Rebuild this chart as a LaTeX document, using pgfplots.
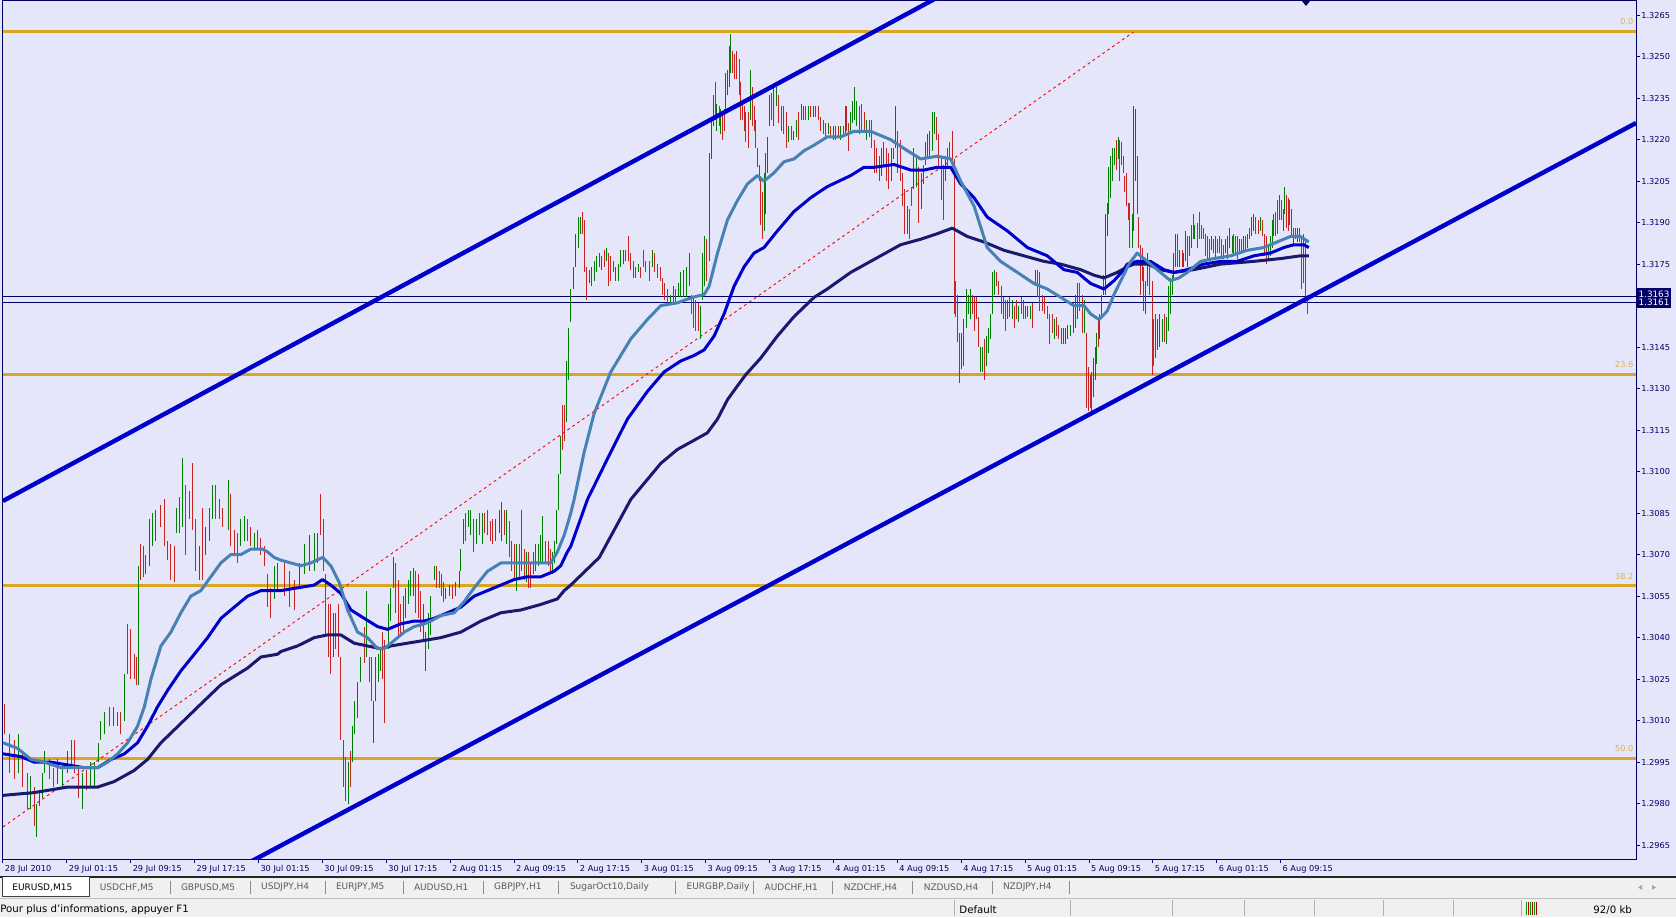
\documentclass[border=0pt]{standalone}
\usepackage{fontspec}
\setmainfont{DejaVu Sans}
\usepackage{pgfplots}
\usepackage{pgfplotstable}
\pgfplotsset{compat=1.18}
\definecolor{lav}{RGB}{230,230,250}
\definecolor{fib}{RGB}{218,165,32}
\definecolor{fibtxt}{RGB}{222,178,80}
\definecolor{chan}{RGB}{0,0,205}
\definecolor{maf}{RGB}{70,130,180}
\definecolor{mam}{RGB}{0,0,205}
\definecolor{mas}{RGB}{25,25,112}
\definecolor{axc}{RGB}{0,0,102}
\definecolor{hl}{RGB}{0,0,100}
\definecolor{tabgray}{RGB}{240,240,240}
\definecolor{tabtxt}{RGB}{90,90,90}
\newcommand{\axfont}{\fontsize{4.1}{4.5}\selectfont}
\newcommand{\tabfont}{\fontsize{4.5}{5}\selectfont}
\newcommand{\stfont}{\fontsize{5.1}{5.5}\selectfont}
\newcommand{\tabtext}[2]{\node[anchor=west, font=\tabfont, inner sep=0pt, text=tabtxt] at (#1pt,14.8pt) {#2};}

\pgfplotstableread{
x l h c
0.6 1.3005 1.3016 0
3.1 1.2991 1.3005 0
5.6 1.2989 1.3003 0
7.6 1.2991 1.3005 1
9.8 1.2986 1.2998 0
12.3 1.2978 1.2991 0
14.0 1.2978 1.2990 1
15.6 1.2972 1.2986 0
16.6 1.2968 1.2980 1
18.1 1.2979 1.2984 1
19.8 1.2982 1.2991 1
21.0 1.2991 1.2999 1
23.2 1.2989 1.2996 0
25.3 1.2986 1.2993 0
27.3 1.2987 1.2996 1
29.8 1.2986 1.2993 1
32.3 1.2991 1.2999 1
34.3 1.2993 1.3003 0
36.0 1.2991 1.3003 0
37.7 1.2982 1.2993 0
39.8 1.2978 1.2991 1
42.0 1.2985 1.2992 0
44.0 1.2986 1.2995 1
46.0 1.2986 1.2995 1
47.7 1.2995 1.3002 1
49.0 1.3003 1.3010 1
51.0 1.3005 1.3013 1
53.2 1.3008 1.3015 0
55.4 1.3008 1.3015 1
57.4 1.3008 1.3013 0
59.0 1.3005 1.3013 0
60.7 1.3010 1.3027 1
62.4 1.3027 1.3045 0
64.1 1.3025 1.3043 0
65.7 1.3025 1.3034 0
66.9 1.3023 1.3033 0
67.7 1.3023 1.3066 1
69.1 1.3061 1.3074 0
70.4 1.3062 1.3073 0
71.6 1.3063 1.3070 1
73.2 1.3066 1.3083 1
74.9 1.3073 1.3085 1
76.6 1.3075 1.3086 1
78.7 1.3080 1.3088 0
80.7 1.3073 1.3090 0
82.4 1.3068 1.3075 0
84.1 1.3061 1.3074 0
85.7 1.3060 1.3073 0
87.1 1.3078 1.3087 1
88.3 1.3078 1.3091 1
89.9 1.3080 1.3105 1
91.6 1.3070 1.3095 0
93.3 1.3083 1.3093 0
95.0 1.3079 1.3103 0
96.6 1.3064 1.3083 0
98.3 1.3061 1.3073 1
100.0 1.3061 1.3087 0
101.6 1.3070 1.3080 1
103.3 1.3075 1.3087 1
105.0 1.3083 1.3095 1
106.6 1.3083 1.3095 0
108.3 1.3083 1.3090 0
110.0 1.3080 1.3087 0
112.8 1.3079 1.3097 1
114.1 1.3073 1.3092 0
115.8 1.3070 1.3079 0
117.5 1.3067 1.3078 0
119.1 1.3073 1.3083 1
120.8 1.3075 1.3084 1
122.5 1.3075 1.3083 0
124.1 1.3073 1.3080 0
125.8 1.3072 1.3078 1
127.5 1.3072 1.3079 0
129.1 1.3070 1.3076 0
130.8 1.3066 1.3073 0
132.5 1.3051 1.3063 0
134.2 1.3047 1.3058 0
135.8 1.3054 1.3066 1
137.5 1.3057 1.3067 1
140.9 1.3055 1.3067 0
143.4 1.3051 1.3064 0
145.9 1.3050 1.3061 0
148.4 1.3058 1.3067 1
150.9 1.3063 1.3074 1
153.4 1.3064 1.3077 1
155.9 1.3064 1.3078 1
157.6 1.3067 1.3078 1
159.2 1.3077 1.3092 0
160.6 1.3064 1.3083 0
161.7 1.3041 1.3063 0
162.9 1.3033 1.3052 0
164.2 1.3027 1.3052 0
165.6 1.3033 1.3049 1
166.7 1.3036 1.3049 0
167.9 1.3033 1.3052 0
169.2 1.3003 1.3033 0
170.6 1.2986 1.3003 0
171.7 1.2981 1.2997 0
172.9 1.2980 1.2995 1
173.9 1.2986 1.2999 0
175.1 1.2995 1.3008 1
176.3 1.3005 1.3017 1
177.6 1.3011 1.3024 1
179.3 1.3024 1.3033 1
180.9 1.3031 1.3044 0
182.3 1.3033 1.3057 1
183.4 1.3024 1.3033 0
184.6 1.3017 1.3033 0
185.6 1.3002 1.3017 1
186.8 1.3017 1.3033 1
187.9 1.3024 1.3034 1
189.3 1.3028 1.3036 1
190.1 1.3025 1.3042 0
191.3 1.3009 1.3039 0
192.9 1.3036 1.3052 1
194.3 1.3046 1.3058 1
195.5 1.3058 1.3069 1
196.8 1.3049 1.3067 0
198.0 1.3041 1.3061 0
199.3 1.3041 1.3052 0
200.6 1.3042 1.3055 1
201.8 1.3047 1.3058 1
202.9 1.3052 1.3061 1
204.3 1.3055 1.3064 1
205.6 1.3055 1.3065 1
206.8 1.3049 1.3064 0
208.0 1.3047 1.3063 0
209.3 1.3042 1.3057 0
210.6 1.3039 1.3052 1
211.8 1.3028 1.3042 1
213.0 1.3036 1.3049 1
214.3 1.3041 1.3055 1
216.0 1.3061 1.3066 1
217.3 1.3058 1.3066 0
218.5 1.3058 1.3064 0
219.7 1.3055 1.3063 0
220.7 1.3053 1.3060 0
221.8 1.3054 1.3058 1
223.5 1.3055 1.3059 1
225.2 1.3054 1.3059 0
226.8 1.3055 1.3060 1
228.5 1.3058 1.3064 1
229.3 1.3064 1.3072 1
230.7 1.3074 1.3083 1
231.8 1.3075 1.3085 0
233.0 1.3080 1.3086 1
234.3 1.3077 1.3086 1
235.7 1.3071 1.3083 0
237.0 1.3074 1.3083 1
238.5 1.3077 1.3085 0
240.2 1.3074 1.3085 1
241.4 1.3078 1.3085 0
242.7 1.3077 1.3086 0
244.0 1.3075 1.3082 0
245.2 1.3074 1.3083 0
246.9 1.3075 1.3083 1
248.5 1.3078 1.3086 1
249.7 1.3075 1.3089 1
251.0 1.3077 1.3086 0
252.4 1.3074 1.3086 1
253.5 1.3069 1.3082 0
254.7 1.3064 1.3075 0
256.0 1.3061 1.3074 0
257.4 1.3057 1.3074 1
258.5 1.3061 1.3074 0
259.7 1.3064 1.3086 0
261.0 1.3061 1.3072 0
262.2 1.3060 1.3071 1
263.4 1.3058 1.3071 0
264.4 1.3058 1.3067 0
265.7 1.3063 1.3071 1
266.9 1.3064 1.3074 1
268.1 1.3066 1.3074 1
269.4 1.3067 1.3077 1
270.2 1.3067 1.3084 1
271.9 1.3067 1.3075 0
273.1 1.3066 1.3075 0
274.1 1.3064 1.3072 0
275.2 1.3063 1.3071 1
276.4 1.3067 1.3075 1
277.4 1.3074 1.3086 1
278.4 1.3086 1.3099 1
279.4 1.3099 1.3113 1
280.4 1.3108 1.3124 0
281.4 1.3111 1.3124 0
282.1 1.3118 1.3140 1
283.1 1.3133 1.3152 1
284.1 1.3154 1.3166 1
285.7 1.3166 1.3174 1
286.9 1.3174 1.3186 1
288.1 1.3181 1.3192 1
289.1 1.3186 1.3192 1
290.2 1.3186 1.3194 0
291.4 1.3172 1.3191 0
292.4 1.3162 1.3174 0
293.6 1.3168 1.3173 1
294.8 1.3167 1.3174 1
296.1 1.3169 1.3176 1
297.4 1.3172 1.3178 1
298.6 1.3174 1.3179 1
299.8 1.3173 1.3178 1
301.1 1.3174 1.3180 0
302.3 1.3176 1.3181 1
303.3 1.3167 1.3179 0
304.4 1.3169 1.3178 0
305.8 1.3172 1.3176 0
306.9 1.3169 1.3174 1
308.1 1.3169 1.3175 1
309.4 1.3174 1.3180 1
310.8 1.3175 1.3180 1
311.9 1.3176 1.3180 0
313.1 1.3176 1.3185 0
314.5 1.3173 1.3179 0
315.8 1.3170 1.3176 0
317.0 1.3170 1.3174 0
318.1 1.3172 1.3175 1
319.5 1.3170 1.3174 0
320.8 1.3174 1.3180 0
322.0 1.3172 1.3176 0
323.6 1.3169 1.3176 0
325.3 1.3174 1.3180 1
326.5 1.3172 1.3179 0
327.8 1.3170 1.3175 0
329.1 1.3169 1.3174 0
330.3 1.3164 1.3170 0
331.5 1.3162 1.3168 0
332.8 1.3160 1.3166 0
334.5 1.3161 1.3164 1
335.8 1.3161 1.3167 1
337.0 1.3161 1.3166 0
338.2 1.3163 1.3168 1
339.5 1.3163 1.3172 1
340.8 1.3163 1.3173 1
342.5 1.3163 1.3174 1
343.7 1.3167 1.3179 1
344.8 1.3157 1.3164 0
345.8 1.3152 1.3163 0
347.0 1.3151 1.3162 0
348.2 1.3151 1.3161 0
349.2 1.3148 1.3160 1
350.3 1.3162 1.3179 1
351.2 1.3167 1.3185 1
352.5 1.3169 1.3184 0
353.8 1.3176 1.3215 1
354.8 1.3213 1.3227 1
355.8 1.3225 1.3236 1
356.7 1.3227 1.3241 0
357.5 1.3223 1.3233 1
358.7 1.3225 1.3232 0
359.5 1.3222 1.3231 1
360.4 1.3220 1.3230 0
361.2 1.3223 1.3231 0
362.0 1.3231 1.3244 1
362.9 1.3236 1.3245 1
363.7 1.3239 1.3254 1
364.5 1.3244 1.3258 1
365.4 1.3244 1.3252 0
366.2 1.3242 1.3251 0
367.5 1.3242 1.3252 0
368.7 1.3236 1.3249 0
369.5 1.3227 1.3241 0
370.4 1.3227 1.3233 0
371.2 1.3223 1.3232 0
372.0 1.3219 1.3230 0
373.2 1.3217 1.3230 0
374.2 1.3227 1.3245 1
375.4 1.3225 1.3239 0
376.2 1.3223 1.3232 0
377.1 1.3217 1.3227 0
377.9 1.3210 1.3217 0
378.7 1.3205 1.3211 0
379.5 1.3189 1.3207 0
380.4 1.3184 1.3201 0
381.2 1.3187 1.3208 1
382.1 1.3193 1.3215 1
382.9 1.3208 1.3221 1
384.1 1.3225 1.3236 1
385.1 1.3227 1.3237 0
386.2 1.3225 1.3239 1
387.6 1.3232 1.3239 1
388.7 1.3226 1.3236 0
389.9 1.3223 1.3232 0
391.2 1.3222 1.3232 0
392.6 1.3217 1.3230 0
393.7 1.3219 1.3225 1
394.9 1.3220 1.3225 0
396.2 1.3220 1.3223 1
397.6 1.3221 1.3227 1
398.7 1.3220 1.3230 0
399.9 1.3227 1.3233 1
400.9 1.3227 1.3232 1
402.1 1.3227 1.3232 0
403.3 1.3227 1.3232 1
404.6 1.3228 1.3232 0
405.9 1.3228 1.3232 1
407.1 1.3228 1.3232 0
408.3 1.3227 1.3232 0
409.6 1.3223 1.3228 0
410.9 1.3222 1.3227 0
412.1 1.3221 1.3226 0
413.3 1.3222 1.3226 1
414.6 1.3221 1.3225 0
415.9 1.3220 1.3225 1
417.1 1.3220 1.3225 0
418.3 1.3221 1.3225 0
419.6 1.3220 1.3225 1
420.9 1.3221 1.3225 0
421.8 1.3222 1.3232 1
422.6 1.3223 1.3232 0
423.5 1.3216 1.3226 0
424.3 1.3222 1.3230 1
425.5 1.3226 1.3234 1
426.5 1.3227 1.3239 1
427.6 1.3225 1.3234 1
428.8 1.3222 1.3232 0
430.0 1.3223 1.3233 0
431.3 1.3223 1.3230 0
432.6 1.3220 1.3227 1
433.8 1.3221 1.3227 1
435.0 1.3217 1.3227 0
436.3 1.3208 1.3220 0
437.6 1.3208 1.3217 0
438.8 1.3205 1.3214 0
440.0 1.3207 1.3217 1
441.3 1.3210 1.3219 1
442.6 1.3205 1.3217 0
443.8 1.3202 1.3215 0
445.0 1.3205 1.3217 1
446.0 1.3213 1.3217 1
447.1 1.3217 1.3232 1
448.3 1.3208 1.3223 0
449.6 1.3205 1.3220 0
450.8 1.3196 1.3208 0
451.8 1.3186 1.3202 0
453.0 1.3186 1.3196 1
454.2 1.3184 1.3195 0
455.2 1.3196 1.3203 0
456.3 1.3202 1.3217 1
457.7 1.3203 1.3214 1
458.8 1.3190 1.3210 0
460.0 1.3195 1.3208 1
461.0 1.3204 1.3211 1
462.2 1.3211 1.3219 1
463.3 1.3213 1.3222 1
464.3 1.3214 1.3223 1
465.5 1.3216 1.3230 1
466.7 1.3222 1.3230 1
467.7 1.3220 1.3228 0
468.8 1.3210 1.3222 0
470.0 1.3198 1.3214 0
471.0 1.3191 1.3211 0
472.2 1.3205 1.3214 1
473.3 1.3210 1.3217 0
474.3 1.3213 1.3219 0
475.4 1.3210 1.3223 0
476.4 1.3157 1.3213 0
477.2 1.3156 1.3169 0
478.0 1.3147 1.3164 0
479.0 1.3132 1.3150 0
480.0 1.3137 1.3150 1
481.0 1.3138 1.3155 1
482.4 1.3152 1.3166 1
483.4 1.3157 1.3164 1
484.4 1.3155 1.3166 1
485.4 1.3157 1.3164 0
486.4 1.3151 1.3163 0
487.4 1.3155 1.3163 0
488.4 1.3145 1.3156 0
489.4 1.3136 1.3145 1
490.4 1.3136 1.3145 1
491.4 1.3133 1.3148 0
492.4 1.3138 1.3149 1
493.4 1.3143 1.3152 1
494.4 1.3148 1.3157 1
495.5 1.3157 1.3172 1
496.7 1.3164 1.3173 1
497.7 1.3167 1.3172 0
498.9 1.3164 1.3169 0
500.1 1.3157 1.3167 0
501.1 1.3155 1.3163 0
502.2 1.3151 1.3162 0
503.4 1.3155 1.3162 1
504.4 1.3156 1.3163 0
505.6 1.3155 1.3162 1
506.7 1.3152 1.3160 0
507.7 1.3155 1.3162 0
508.9 1.3154 1.3160 1
510.1 1.3157 1.3163 0
511.1 1.3155 1.3162 0
512.2 1.3155 1.3160 1
513.4 1.3156 1.3160 1
514.7 1.3155 1.3160 1
515.9 1.3152 1.3161 0
517.3 1.3167 1.3173 1
518.4 1.3163 1.3173 0
519.4 1.3158 1.3172 0
520.6 1.3158 1.3164 0
521.8 1.3157 1.3163 0
523.1 1.3155 1.3160 0
524.4 1.3146 1.3157 0
525.6 1.3150 1.3157 0
526.8 1.3148 1.3155 1
527.8 1.3149 1.3156 0
528.9 1.3148 1.3153 0
530.1 1.3146 1.3152 0
531.1 1.3146 1.3152 1
532.3 1.3146 1.3152 1
533.4 1.3148 1.3153 1
534.8 1.3149 1.3153 1
536.1 1.3150 1.3161 1
537.3 1.3152 1.3164 1
538.4 1.3155 1.3168 1
539.4 1.3158 1.3168 0
540.6 1.3150 1.3164 0
541.9 1.3150 1.3162 1
542.8 1.3123 1.3150 0
543.6 1.3122 1.3138 0
544.5 1.3123 1.3135 0
545.3 1.3122 1.3136 0
546.1 1.3127 1.3141 1
547.0 1.3133 1.3145 1
547.8 1.3139 1.3150 1
548.6 1.3145 1.3155 0
549.5 1.3148 1.3157 1
550.3 1.3155 1.3164 1
551.5 1.3164 1.3171 1
552.3 1.3164 1.3193 1
553.1 1.3185 1.3197 1
554.0 1.3193 1.3210 1
554.8 1.3199 1.3214 1
555.6 1.3205 1.3217 1
556.8 1.3211 1.3217 1
557.8 1.3209 1.3220 0
558.6 1.3213 1.3221 1
559.5 1.3205 1.3220 0
560.3 1.3211 1.3219 0
561.2 1.3208 1.3214 0
562.0 1.3201 1.3207 0
562.8 1.3196 1.3208 0
563.7 1.3191 1.3197 0
564.5 1.3181 1.3197 0
565.6 1.3181 1.3193 1
566.5 1.3187 1.3232 1
567.3 1.3205 1.3231 1
568.1 1.3193 1.3214 0
569.0 1.3181 1.3192 0
569.8 1.3164 1.3182 0
570.6 1.3169 1.3181 0
571.5 1.3158 1.3174 0
572.3 1.3157 1.3169 1
573.2 1.3167 1.3179 1
574.5 1.3164 1.3174 0
575.7 1.3135 1.3169 0
576.5 1.3138 1.3155 0
577.3 1.3141 1.3157 1
578.5 1.3144 1.3155 1
579.5 1.3145 1.3157 1
580.7 1.3147 1.3155 1
581.8 1.3147 1.3157 0
582.8 1.3146 1.3156 1
584.0 1.3151 1.3167 1
584.8 1.3157 1.3170 1
585.7 1.3164 1.3171 1
586.5 1.3169 1.3179 1
587.3 1.3174 1.3186 1
588.5 1.3174 1.3186 0
589.5 1.3174 1.3180 1
590.7 1.3174 1.3180 0
591.5 1.3174 1.3179 1
592.5 1.3176 1.3187 1
593.5 1.3174 1.3185 0
594.5 1.3178 1.3185 1
595.4 1.3181 1.3189 1
596.2 1.3184 1.3193 0
597.0 1.3184 1.3189 1
598.2 1.3181 1.3190 0
599.4 1.3184 1.3194 0
600.4 1.3184 1.3189 0
601.5 1.3184 1.3188 0
602.5 1.3178 1.3186 0
603.5 1.3177 1.3185 0
604.5 1.3177 1.3184 0
605.5 1.3180 1.3185 1
606.5 1.3179 1.3184 0
607.5 1.3177 1.3185 1
608.5 1.3179 1.3184 0
609.5 1.3179 1.3185 0
610.5 1.3177 1.3184 0
611.5 1.3177 1.3182 0
612.5 1.3179 1.3184 1
613.5 1.3177 1.3185 1
614.5 1.3181 1.3188 1
615.7 1.3179 1.3185 1
616.6 1.3178 1.3186 0
617.6 1.3179 1.3185 1
618.6 1.3177 1.3185 0
619.6 1.3179 1.3184 1
620.6 1.3179 1.3184 0
621.6 1.3179 1.3185 1
622.6 1.3180 1.3185 0
623.6 1.3181 1.3186 1
624.6 1.3184 1.3188 0
625.6 1.3185 1.3192 1
626.6 1.3187 1.3193 1
627.6 1.3186 1.3192 0
628.7 1.3186 1.3191 0
629.9 1.3187 1.3192 1
630.9 1.3185 1.3191 0
631.9 1.3178 1.3186 0
632.9 1.3175 1.3185 0
633.7 1.3176 1.3182 1
634.7 1.3178 1.3185 1
635.7 1.3181 1.3191 1
636.6 1.3185 1.3193 1
637.4 1.3185 1.3194 0
638.2 1.3186 1.3198 0
639.3 1.3191 1.3200 1
640.3 1.3191 1.3198 0
641.3 1.3187 1.3195 1
642.1 1.3193 1.3203 1
642.9 1.3188 1.3200 0
643.8 1.3187 1.3199 0
644.6 1.3189 1.3198 0
645.6 1.3185 1.3195 0
646.6 1.3182 1.3188 1
647.6 1.3184 1.3188 0
648.6 1.3183 1.3188 1
649.6 1.3183 1.3188 0
650.6 1.3166 1.3185 0
651.6 1.3168 1.3186 0
652.4 1.3163 1.3184 0
653.6 1.3157 1.3164 0
}\bars

\begin{document}
\begin{tikzpicture}
\path[use as bounding box] (0,0) rectangle (838pt,458.5pt);
\fill[lav] (0,20pt) rectangle (838pt,458.5pt);
\fill[tabgray] (0,0) rectangle (838pt,20pt);
\draw[black!85, line width=0.6pt] (0,20pt) -- (838pt,20pt);
\draw[black!25, line width=0.4pt] (0,9.3pt) -- (838pt,9.3pt);
% active tab
\filldraw[fill=white, draw=black!75, line width=0.45pt] (1pt,20pt) -- (1pt,10.2pt) -- (44.8pt,10.2pt) -- (44.8pt,20pt);
\node[anchor=west, font=\tabfont, inner sep=0pt, text=black] at (6pt,14.8pt) {EURUSD,M15};
\tabtext{49.7}{USDCHF,M5}
\tabtext{90.3}{GBPUSD,M5}
\tabtext{130.4}{USDJPY,H4}
\tabtext{167.8}{EURJPY,M5}
\tabtext{206.8}{AUDUSD,H1}
\tabtext{246.9}{GBPJPY,H1}
\tabtext{284.8}{SugarOct10,Daily}
\tabtext{343.1}{EURGBP,Daily}
\tabtext{382.1}{AUDCHF,H1}
\tabtext{421.7}{NZDCHF,H4}
\tabtext{461.7}{NZDUSD,H4}
\tabtext{501.3}{NZDJPY,H4}
\foreach \xx in {85,125,162.5,201.5,241.5,279,337.7,376.8,416.3,456.4,496,534.5}
  \draw[black!45, line width=0.4pt] (\xx pt,11.5pt) -- (\xx pt,18pt);
\fill[black!35] (819pt,14.8pt) -- (821pt,16pt) -- (821pt,13.6pt) -- cycle;
\fill[black!35] (828pt,14.8pt) -- (826pt,16pt) -- (826pt,13.6pt) -- cycle;
% status bar
\node[anchor=west, font=\stfont, inner sep=0pt, text=black] at (0pt,3.6pt) {Pour plus d'informations, appuyer F1};
\node[anchor=west, font=\stfont, inner sep=0pt, text=black] at (479.5pt,3.6pt) {Default};
\node[anchor=west, font=\stfont, inner sep=0pt, text=black] at (796.5pt,3.6pt) {92/0 kb};
\foreach \xx in {477.4,535,586.3,622,657,691.5,726.5,760.5}
  \draw[black!30, line width=0.4pt] (\xx pt,0.5pt) -- (\xx pt,8.5pt);
\draw[green!60!black, line width=0.5pt] (763pt,1pt) -- (763pt,7.5pt);
\draw[red!70!black, line width=0.5pt] (764pt,1pt) -- (764pt,7.5pt);
\draw[green!60!black, line width=0.5pt] (765pt,1pt) -- (765pt,7.5pt);
\draw[red!70!black, line width=0.5pt] (766pt,1pt) -- (766pt,7.5pt);
\draw[green!60!black, line width=0.5pt] (767pt,1pt) -- (767pt,7.5pt);
\draw[red!70!black, line width=0.5pt] (768pt,1pt) -- (768pt,7.5pt);
\begin{axis}[
  at={(1.5pt,29pt)}, anchor=south west,
  scale only axis, width=816.5pt, height=429pt,
  xmin=0, xmax=818, ymin=1.29600, ymax=1.32701,
  clip mode=individual,
  axis line style={draw=axc, line width=0.5pt},
  tick style={draw=axc, line width=0.5pt},
  tick align=outside, major tick length=2pt,
  xtick pos=left, ytick pos=right, yticklabel pos=right,
  scaled y ticks=false, scaled x ticks=false,
  xtick={0,32,...,640},
  xticklabels={28 Jul 2010, 29 Jul 01:15, 29 Jul 09:15, 29 Jul 17:15, 30 Jul 01:15, 30 Jul 09:15, 30 Jul 17:15, 2 Aug 01:15, 2 Aug 09:15, 2 Aug 17:15, 3 Aug 01:15, 3 Aug 09:15, 3 Aug 17:15, 4 Aug 01:15, 4 Aug 09:15, 4 Aug 17:15, 5 Aug 01:15, 5 Aug 09:15, 5 Aug 17:15, 6 Aug 01:15, 6 Aug 09:15},
  ytick={1.2965,1.2980,1.2995,1.3010,1.3025,1.3040,1.3055,1.3070,1.3085,1.3100,1.3115,1.3130,1.3145,1.3160,1.3175,1.3190,1.3205,1.3220,1.3235,1.3250,1.3265},
  yticklabels={1.2965,1.2980,1.2995,1.3010,1.3025,1.3040,1.3055,1.3070,1.3085,1.3100,1.3115,1.3130,1.3145,1.3160,1.3175,1.3190,1.3205,1.3220,1.3235,1.3250,1.3265},
  xticklabel style={font=\axfont, text=axc, anchor=north west, inner sep=0pt, xshift=0.8pt, yshift=-0.9pt},
  yticklabel style={font=\axfont, text=axc, anchor=west, inner sep=0pt, xshift=0.5pt},
  colormap={updown}{rgb255=(200,35,35) rgb255=(0,128,0)},
  point meta min=0, point meta max=1,
]
% fibonacci levels
\addplot[fib, line width=1.5pt] coordinates {(0,1.32592) (818,1.32592)};
\addplot[fib, line width=1.5pt] coordinates {(0,1.31351) (818,1.31351)};
\addplot[fib, line width=1.5pt] coordinates {(0,1.30587) (818,1.30587)};
\addplot[fib, line width=1.5pt] coordinates {(0,1.29963) (818,1.29963)};
\addplot[red, line width=0.45pt, dash pattern=on 1.4pt off 1.6pt] coordinates {(0,1.29716) (566.3,1.32589)};
% horizontal lines
\addplot[hl, line width=0.5pt] coordinates {(0,1.31634) (818,1.31634)};
\addplot[hl, line width=0.5pt] coordinates {(0,1.31611) (818,1.31611)};
% price bars
\addplot[point meta=\thisrow{c}, quiver={u=0, v=\thisrow{h}-\thisrow{l}, every arrow/.append style={draw=mapped color, line width=0.5pt}}] table[x=x, y=l] {\bars};
% moving averages
\addplot[mas, line width=1.5pt, line join=round] coordinates {(0,1.2983) (15.6,1.2984) (32.4,1.2986) (47.4,1.2986) (55.7,1.2988) (65.7,1.2992) (72.4,1.2996) (79.1,1.3002) (89.1,1.3009) (99.1,1.3016) (109.2,1.3023) (115.8,1.3026) (122.5,1.3029) (129.2,1.3033) (137.5,1.3034) (139.2,1.3035) (147.5,1.3037) (155.9,1.3040) (162.6,1.3041) (169.2,1.3041) (175.9,1.3038) (182.6,1.3037) (189.3,1.3036) (194.3,1.3037) (202.6,1.3038) (211.0,1.3039) (219.3,1.3040) (229.3,1.3042) (239.4,1.3046) (249.4,1.3049) (259.4,1.3050) (269.4,1.3052) (277.7,1.3054) (281.1,1.3057) (284.4,1.3059) (298.7,1.3069) (314.5,1.3090) (329.5,1.3103) (337.8,1.3108) (347.8,1.3112) (352.8,1.3114) (357.9,1.3119) (362.9,1.3126) (367.9,1.3131) (372.0,1.3135) (379.5,1.3141) (387.9,1.3149) (396.2,1.3156) (406.3,1.3163) (412.9,1.3166) (424.6,1.3172) (429.6,1.3174) (439.6,1.3178) (449.6,1.3182) (459.7,1.3184) (468.0,1.3186) (475.5,1.3188) (483.0,1.3185) (491.4,1.3183) (501.4,1.3180) (511.4,1.3178) (521.4,1.3176) (529.8,1.3175) (539.8,1.3173) (546.5,1.3171) (551.5,1.3170) (558.1,1.3172) (563.1,1.3174) (566.5,1.3175) (573.2,1.3175) (579.8,1.3173) (586.5,1.3172) (596.5,1.3173) (609.9,1.3175) (626.6,1.3176) (639.9,1.3177) (649.9,1.3178) (654.1,1.3178)};
\addplot[mam, line width=1.5pt, line join=round] coordinates {(0,1.2998) (9.0,1.2997) (15.6,1.2995) (24.0,1.2995) (32.4,1.2994) (40.7,1.2993) (47.4,1.2993) (54.1,1.2996) (60.8,1.2998) (67.4,1.3002) (72.4,1.3008) (77.4,1.3015) (82.5,1.3021) (89.1,1.3028) (95.8,1.3034) (102.5,1.3040) (109.2,1.3047) (115.8,1.3051) (122.5,1.3055) (129.2,1.3057) (137.5,1.3057) (139.2,1.3057) (147.5,1.3058) (155.9,1.3059) (160.1,1.3061) (164.2,1.3059) (169.2,1.3056) (174.3,1.3050) (180.9,1.3047) (187.6,1.3044) (192.6,1.3043) (199.3,1.3045) (206.0,1.3046) (211.0,1.3046) (216.0,1.3047) (222.7,1.3049) (229.3,1.3051) (236.0,1.3055) (242.7,1.3057) (249.4,1.3059) (256.0,1.3061) (262.7,1.3062) (269.4,1.3062) (276.1,1.3064) (279.4,1.3066) (282.7,1.3071) (284.4,1.3073) (292.8,1.3090) (304.4,1.3107) (312.8,1.3119) (322.8,1.3129) (331.1,1.3136) (339.5,1.3140) (346.2,1.3142) (351.2,1.3144) (356.2,1.3149) (361.2,1.3157) (366.2,1.3167) (371.2,1.3174) (376.2,1.3179) (381.2,1.3181) (387.9,1.3187) (396.2,1.3194) (404.6,1.3199) (412.9,1.3203) (424.6,1.3207) (431.3,1.3210) (436.3,1.3210) (446.3,1.3211) (454.7,1.3209) (461.3,1.3209) (468.0,1.3210) (474.7,1.3210) (479.7,1.3204) (486.4,1.3199) (493.0,1.3192) (503.1,1.3187) (513.1,1.3181) (523.1,1.3178) (531.4,1.3173) (538.1,1.3172) (544.8,1.3168) (551.5,1.3166) (556.5,1.3169) (561.5,1.3173) (563.1,1.3175) (568.1,1.3176) (574.8,1.3176) (581.5,1.3173) (586.5,1.3172) (593.2,1.3173) (601.5,1.3175) (609.9,1.3176) (618.2,1.3176) (626.6,1.3178) (634.9,1.3179) (641.6,1.3181) (646.6,1.3182) (651.6,1.3182) (654.1,1.3181)};
\addplot[maf, line width=1.5pt, line join=round] coordinates {(0,1.3002) (7.3,1.3000) (14.0,1.2996) (20.7,1.2995) (29.0,1.2993) (37.3,1.2993) (44.0,1.2993) (47.4,1.2993) (52.4,1.2995) (57.4,1.2998) (62.4,1.3002) (67.4,1.3008) (70.8,1.3015) (74.1,1.3025) (79.1,1.3037) (84.1,1.3042) (89.1,1.3049) (94.1,1.3055) (99.1,1.3057) (104.1,1.3062) (109.1,1.3067) (114.1,1.3070) (119.1,1.3070) (124.1,1.3072) (130.0,1.3072) (132.5,1.3071) (135.8,1.3069) (139.2,1.3068) (144.2,1.3067) (149.2,1.3066) (154.2,1.3067) (160.1,1.3069) (164.2,1.3066) (168.4,1.3060) (172.6,1.3050) (177.6,1.3042) (182.6,1.3040) (187.6,1.3036) (190.9,1.3036) (196.0,1.3039) (201.0,1.3042) (206.0,1.3044) (211.0,1.3045) (214.3,1.3046) (219.3,1.3048) (226.0,1.3049) (231.0,1.3053) (236.0,1.3058) (242.7,1.3064) (249.4,1.3067) (256.0,1.3067) (262.7,1.3067) (269.4,1.3067) (274.4,1.3067) (277.7,1.3071) (281.1,1.3077) (284.4,1.3085) (286.1,1.3090) (291.1,1.3107) (296.1,1.3121) (304.4,1.3136) (314.5,1.3148) (322.8,1.3155) (329.5,1.3160) (337.8,1.3161) (345.3,1.3163) (351.2,1.3164) (353.7,1.3167) (357.9,1.3179) (362.9,1.3191) (367.9,1.3198) (372.9,1.3204) (377.9,1.3207) (381.2,1.3205) (386.2,1.3208) (391.2,1.3212) (396.2,1.3213) (401.3,1.3216) (406.3,1.3218) (412.9,1.3221) (419.6,1.3221) (426.3,1.3223) (434.6,1.3223) (444.6,1.3220) (453.0,1.3216) (459.7,1.3213) (468.0,1.3214) (474.7,1.3213) (479.7,1.3205) (486.4,1.3196) (493.0,1.3181) (499.7,1.3176) (508.1,1.3172) (516.4,1.3168) (523.1,1.3166) (529.8,1.3163) (536.4,1.3160) (541.5,1.3160) (544.8,1.3157) (549.0,1.3155) (553.1,1.3158) (556.5,1.3164) (560.6,1.3170) (564.0,1.3175) (568.1,1.3179) (573.2,1.3176) (578.2,1.3173) (584.8,1.3169) (589.0,1.3170) (593.2,1.3172) (599.9,1.3176) (606.5,1.3177) (614.9,1.3178) (623.2,1.3180) (631.6,1.3181) (638.2,1.3183) (644.9,1.3185) (649.9,1.3185) (654.1,1.3183)};
% channel
\addplot[chan, line width=2.2pt] coordinates {(0,1.30894) (818,1.34074)};
\addplot[chan, line width=2.2pt] coordinates {(0,1.29113) (818,1.32260)};
% fib labels
\node[anchor=south east, font=\axfont, text=fibtxt, inner sep=0.6pt] at (axis cs:817.5,1.32610) {0.0};
\node[anchor=south east, font=\axfont, text=fibtxt, inner sep=0.6pt] at (axis cs:817.5,1.31369) {23.6};
\node[anchor=south east, font=\axfont, text=fibtxt, inner sep=0.6pt] at (axis cs:817.5,1.30605) {38.2};
\node[anchor=south east, font=\axfont, text=fibtxt, inner sep=0.6pt] at (axis cs:817.5,1.29981) {50.0};
% price label boxes
\node[anchor=west, fill=axc, text=white, font=\fontsize{4.4}{4.8}\selectfont, inner xsep=0.8pt, inner ysep=0.5pt, minimum height=5.8pt] at (axis cs:818.3,1.31642) {1.3163};
\node[anchor=west, fill=axc, text=white, font=\fontsize{4.4}{4.8}\selectfont, inner xsep=0.8pt, inner ysep=0.5pt, minimum height=5.8pt] at (axis cs:818.3,1.31611) {1.3161};
\end{axis}
\fill[axc] (651pt,458pt) -- (655pt,458pt) -- (653pt,455.5pt) -- cycle;
\end{tikzpicture}
\end{document}
